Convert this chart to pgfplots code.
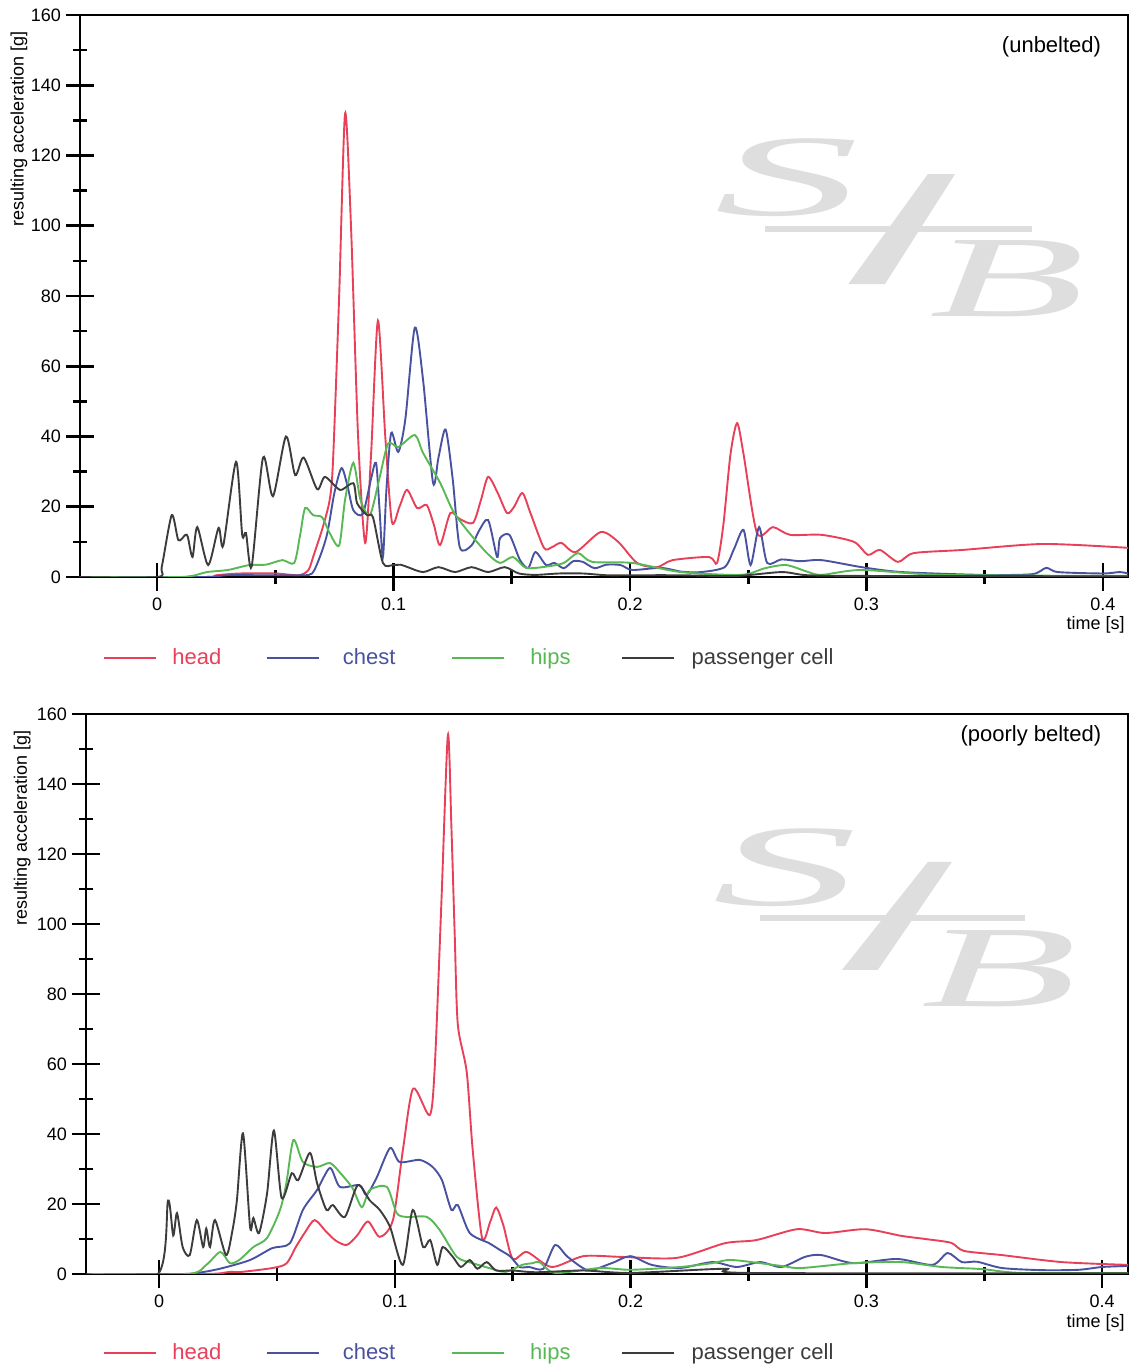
\documentclass[border=0pt]{standalone}
\usepackage{pgfplots}
\pgfplotsset{compat=1.18}
\usepackage{fontspec}
\setmainfont{Liberation Sans}
\setsansfont{Liberation Sans}
\newfontfamily\logofont{Liberation Serif}
\definecolor{headc}{RGB}{232,64,88}
\definecolor{chestc}{RGB}{72,82,160}
\definecolor{hipsc}{RGB}{88,184,84}
\definecolor{cellc}{RGB}{60,60,60}
\definecolor{logoc}{RGB}{222,222,222}

\pgfplotsset{
  accplot/.style={
    scale only axis,
    ymin=0, ymax=160,
    xtick={0,0.1,0.2,0.3,0.4}, minor xtick={0.05,0.15,0.25,0.35},
    ytick={0,20,...,160}, minor ytick={10,30,...,150},
    xtick pos=bottom, ytick pos=left,
    tick align=center,
    major tick length=14pt, minor tick length=7pt,
    tick style={black, line width=1.3pt},
    axis line style={line width=1.1pt},
    scaled x ticks=false,
    x tick label style={/pgf/number format/fixed, /pgf/number format/precision=1, yshift=0pt},
    y tick label style={xshift=1pt},
    tick label style={font=\fontsize{9}{10}\selectfont},
    /pgf/number format/assume math mode=true,
    xlabel={time [s]},
    ylabel={resulting acceleration [g]},
    every axis plot/.append style={line width=0.95pt, smooth, tension=0.45},
    legend columns=4,
    legend cell align=left,
    legend style={draw=none, fill=none, inner sep=0pt, outer sep=0pt,
      column sep=0pt, font=\fontsize{11}{13}\selectfont,
      nodes={inner sep=0pt, outer sep=0pt}},
    legend image code/.code={\draw[#1, line width=1.2pt] (0pt,0pt) -- (26pt,0pt);},
  }
}

\begin{document}
\begin{tikzpicture}
\path[use as bounding box] (0,0) rectangle (567pt,685.5pt);

% ---------------- top panel: unbelted ----------------
\begin{axis}[accplot,
  at={(40pt,397pt)}, anchor=south west,
  width=524pt, height=281pt,
  xmin=-0.0326, xmax=0.4106,
  every axis y label/.style={at={(axis description cs:-0.0435,0.984)}, anchor=south east, rotate=90, font=\fontsize{9}{10}\selectfont},
  every axis x label/.style={at={(axis description cs:0.969,-0.085)}, anchor=center, font=\fontsize{9}{10}\selectfont},
  legend style={at={(axis description cs:0.022,-0.144)}, anchor=west},
]
\node[logoc, font=\logofont\itshape\fontsize{58}{58}\selectfont] at (axis description cs:0.675,0.71) {\scalebox{2.5}[1]{S}};
\fill[logoc] (axis description cs:0.809,0.717) -- (axis description cs:0.835,0.717) -- (axis description cs:0.768,0.521) -- (axis description cs:0.733,0.521) -- cycle;
\fill[logoc] (axis description cs:0.654,0.625) rectangle (axis description cs:0.908,0.614);
\node[logoc, font=\logofont\itshape\fontsize{58}{58}\selectfont] at (axis description cs:0.885,0.53) {\scalebox{2.2}[1]{B}};
\node[anchor=east, font=\fontsize{11}{13}\selectfont] at (axis description cs:0.981,0.943) {(unbelted)};

\addplot[headc] coordinates {
(-0.033,0) (0.02,0) (0.025,0.5) (0.035,1) (0.05,1) (0.06,0.5) (0.064,2) (0.066,5.7) (0.070,14) (0.073,22) (0.0744,33) (0.077,80) (0.0795,132) (0.082,100) (0.085,40) (0.088,9.7) (0.0905,35) (0.0934,73) (0.0965,40) (0.0993,15.7) (0.1025,20) (0.1057,24.8) (0.110,19.6) (0.114,20.5) (0.117,15) (0.1197,9.1) (0.124,18.2) (0.128,16.5) (0.1336,15.4) (0.137,22) (0.140,28.5) (0.144,24) (0.148,18.2) (0.151,20) (0.1545,23.9) (0.158,18) (0.1636,8.3) (0.167,8.5) (0.171,9.7) (0.177,7.1) (0.1876,12.8) (0.195,10) (0.203,4) (0.2114,2.8) (0.218,4.8) (0.2334,5.7) (0.2368,4) (0.2395,15) (0.2425,35) (0.2453,43.8) (0.248,35) (0.2537,12.5) (0.2605,14.2) (0.2677,12) (0.281,12) (0.2947,10) (0.3006,6.3) (0.3057,7.7) (0.3133,4.3) (0.320,6.8) (0.3406,7.7) (0.3747,9.4) (0.4106,8.3)
};
\addlegendentry{\hspace{7.5pt}\makebox[46.5pt][l]{\textcolor{headc}{head}}}
\addplot[chestc] coordinates {
(-0.033,0) (0.02,0) (0.03,0.5) (0.06,0.5) (0.0655,1) (0.069,6) (0.072,12.5) (0.075,24) (0.078,31) (0.0805,26) (0.083,19) (0.087,18) (0.0905,28) (0.0926,32.5) (0.094,20) (0.0955,5.7) (0.097,25) (0.099,41) (0.102,35.6) (0.105,45) (0.109,71) (0.1125,56) (0.1167,26.8) (0.119,34) (0.122,42) (0.125,28) (0.128,8.5) (0.133,9) (0.136,13) (0.140,16.2) (0.1438,5.7) (0.145,11) (0.149,12) (0.1535,4.8) (0.157,2.6) (0.160,7.1) (0.1645,3.4) (0.168,4) (0.172,2.5) (0.176,4.5) (0.18,4.3) (0.185,2.5) (0.19,3.5) (0.196,3.4) (0.201,2) (0.213,2.6) (0.222,1.5) (0.230,1.4) (0.240,2.8) (0.244,8) (0.248,13.4) (0.251,3.4) (0.2546,14.2) (0.258,4) (0.264,5) (0.272,4.5) (0.281,4.8) (0.298,2.8) (0.315,1.4) (0.349,0.6) (0.37,0.8) (0.376,2.6) (0.381,1.4) (0.40,1) (0.407,1.4) (0.4106,1)
};
\addlegendentry{\hspace{11.5pt}\makebox[54pt][l]{\textcolor{chestc}{chest}}}
\addplot[hipsc] coordinates {
(-0.033,0) (0.01,0) (0.021,1.4) (0.03,2) (0.039,3.4) (0.046,3.5) (0.053,4.8) (0.058,4) (0.0605,12) (0.0626,19.6) (0.066,17.6) (0.0698,17) (0.073,12.5) (0.077,9) (0.0795,22) (0.083,32.5) (0.086,22) (0.090,17.6) (0.094,28) (0.0977,38) (0.102,37) (0.109,40.4) (0.1125,35.3) (0.1197,26.8) (0.125,19) (0.131,13.4) (0.1395,6.8) (0.145,4) (0.1505,5.7) (0.156,2.6) (0.165,3) (0.172,4) (0.178,6.8) (0.184,4.3) (0.201,4) (0.2215,1.4) (0.247,0.6) (0.257,2.5) (0.266,3.4) (0.275,1.5) (0.281,0.6) (0.298,2) (0.332,0.6) (0.4106,0.3)
};
\addlegendentry{\hspace{12.5pt}\makebox[45.5pt][l]{\textcolor{hipsc}{hips}}}
\addplot[cellc] coordinates {
(-0.033,0) (0.0,0) (0.002,3) (0.0062,17.6) (0.009,10.5) (0.012,12) (0.013,11.4) (0.015,5.7) (0.017,14.2) (0.0216,3.4) (0.026,14) (0.028,9) (0.0334,32.8) (0.036,12) (0.0376,12.5) (0.040,3) (0.0448,34) (0.049,23) (0.0545,40) (0.0584,29) (0.062,34) (0.0677,25) (0.071,28.5) (0.0774,24.8) (0.083,26.7) (0.0846,21) (0.0888,17.6) (0.0913,17) (0.0955,4) (0.0998,3.4) (0.103,3.5) (0.106,2.8) (0.1125,1.4) (0.119,2.8) (0.126,1.4) (0.133,2.8) (0.14,1.4) (0.147,2.8) (0.153,1) (0.16,0.6) (0.17,1) (0.18,1) (0.19,0.5) (0.2,0.5) (0.22,0.5) (0.245,0.3) (0.264,1.4) (0.275,0.5) (0.3,0.3) (0.4106,0.2)
};
\addlegendentry{\hspace{8pt}\textcolor{cellc}{passenger cell}}
\end{axis}

% ---------------- bottom panel: poorly belted ----------------
\begin{axis}[accplot,
  at={(43pt,48.5pt)}, anchor=south west,
  width=521pt, height=280pt,
  xmin=-0.031, xmax=0.411,
  every axis y label/.style={at={(axis description cs:-0.0465,0.984)}, anchor=south east, rotate=90, font=\fontsize{9}{10}\selectfont},
  every axis x label/.style={at={(axis description cs:0.969,-0.087)}, anchor=center, font=\fontsize{9}{10}\selectfont},
  legend style={at={(axis description cs:0.0163,-0.141)}, anchor=west},
]
\node[logoc, font=\logofont\itshape\fontsize{58}{58}\selectfont] at (axis description cs:0.671,0.725) {\scalebox{2.5}[1]{S}};
\fill[logoc] (axis description cs:0.808,0.736) -- (axis description cs:0.831,0.736) -- (axis description cs:0.760,0.543) -- (axis description cs:0.7255,0.543) -- cycle;
\fill[logoc] (axis description cs:0.647,0.641) rectangle (axis description cs:0.901,0.630);
\node[logoc, font=\logofont\itshape\fontsize{58}{58}\selectfont] at (axis description cs:0.877,0.546) {\scalebox{2.2}[1]{B}};
\node[anchor=east, font=\fontsize{11}{13}\selectfont] at (axis description cs:0.981,0.961) {(poorly belted)};

\addplot[headc] coordinates {
(-0.031,0) (0.02,0) (0.03,0.6) (0.035,0.6) (0.048,1.7) (0.054,3) (0.058,7.7) (0.062,12) (0.066,15.4) (0.071,12) (0.075,9.5) (0.0796,8.3) (0.084,11) (0.0886,15) (0.0936,10.6) (0.0992,15.4) (0.1035,35.8) (0.1078,53) (0.1148,45.4) (0.117,60) (0.1198,107) (0.1225,154) (0.124,127.7) (0.1254,97) (0.1267,71.4) (0.1305,57.7) (0.133,35.7) (0.137,10.3) (0.1405,15) (0.143,19) (0.146,14) (0.150,4.3) (0.156,6.3) (0.1665,2) (0.180,5.1) (0.1956,4.9) (0.2195,4.6) (0.240,8.8) (0.2534,9.7) (0.2706,12.8) (0.2826,11.7) (0.2996,12.8) (0.3148,10.9) (0.325,10) (0.336,8.9) (0.3414,6.6) (0.3576,5.4) (0.383,3.4) (0.411,2.6)
};
\addlegendentry{\hspace{7.5pt}\makebox[46.5pt][l]{\textcolor{headc}{head}}}
\addplot[chestc] coordinates {
(-0.031,0) (0.01,0) (0.019,0.6) (0.027,1.7) (0.0386,4) (0.048,7.4) (0.0555,8.8) (0.061,18.3) (0.067,24) (0.0725,30.3) (0.0767,24.9) (0.085,25.4) (0.088,22.6) (0.0924,27.7) (0.098,36) (0.102,32) (0.1106,32.6) (0.116,30.6) (0.120,26.8) (0.124,18.3) (0.1267,19.7) (0.1318,11.7) (0.140,8.8) (0.1445,6.9) (0.149,5) (0.153,2) (0.157,2) (0.163,1.5) (0.168,8.3) (0.1733,4.9) (0.182,1.1) (0.192,3.1) (0.1999,5.1) (0.209,2.6) (0.221,1.7) (0.2347,3.4) (0.245,2) (0.255,3.4) (0.264,2) (0.274,4.9) (0.281,5.4) (0.2945,3.1) (0.313,4.3) (0.328,2.6) (0.3345,6) (0.3405,3.4) (0.347,3.5) (0.3576,1.7) (0.3746,1.1) (0.39,1.2) (0.40,2) (0.411,2.3)
};
\addlegendentry{\hspace{11.5pt}\makebox[54pt][l]{\textcolor{chestc}{chest}}}
\addplot[hipsc] coordinates {
(-0.031,0) (0.012,0) (0.02,2.6) (0.026,6.3) (0.030,3.1) (0.034,4) (0.040,7.7) (0.0458,10.3) (0.0513,18.3) (0.054,26) (0.057,38.3) (0.061,32) (0.067,30.6) (0.0725,31.7) (0.0767,29) (0.082,24.6) (0.086,19.1) (0.0894,24) (0.0966,24.9) (0.1008,17.4) (0.105,16.3) (0.1136,16.3) (0.119,12.6) (0.1263,4.9) (0.133,3.1) (0.140,1.7) (0.147,0.6) (0.154,2.6) (0.1585,3.1) (0.1614,3.4) (0.168,0.3) (0.187,1.7) (0.2,1.2) (0.221,2) (0.2347,3.1) (0.243,4) (0.264,2.3) (0.2723,1.7) (0.2945,3.1) (0.315,3.4) (0.332,2) (0.349,1.4) (0.366,0.3) (0.411,0.3)
};
\addlegendentry{\hspace{12.5pt}\makebox[45.5pt][l]{\textcolor{hipsc}{hips}}}
\addplot[cellc] coordinates {
(-0.031,0) (-0.0005,0) (0.0038,21) (0.006,11) (0.0076,17.4) (0.010,7.7) (0.013,5.4) (0.016,15.4) (0.0187,7.7) (0.020,13) (0.0216,7.7) (0.0237,15.4) (0.0284,5.4) (0.031,12) (0.033,21) (0.0356,40.2) (0.0386,13.4) (0.040,16) (0.0424,11.7) (0.0458,23) (0.0487,41) (0.052,21.7) (0.0563,28.8) (0.059,26.8) (0.064,34.6) (0.067,26) (0.071,18.3) (0.0737,19.7) (0.0788,16.3) (0.0843,25.4) (0.0894,21) (0.0936,18.3) (0.098,13.4) (0.1034,2.6) (0.1076,18.3) (0.112,7.7) (0.115,9.7) (0.118,2.6) (0.1203,7.7) (0.1246,4.9) (0.128,2) (0.1318,4) (0.135,1.5) (0.139,3.4) (0.143,1) (0.15,1) (0.16,0.5) (0.18,1) (0.2,0.3) (0.24,1.5) (0.25,0.3) (0.411,0.2)
};
\addlegendentry{\hspace{8pt}\textcolor{cellc}{passenger cell}}
\end{axis}
\end{tikzpicture}
\end{document}
